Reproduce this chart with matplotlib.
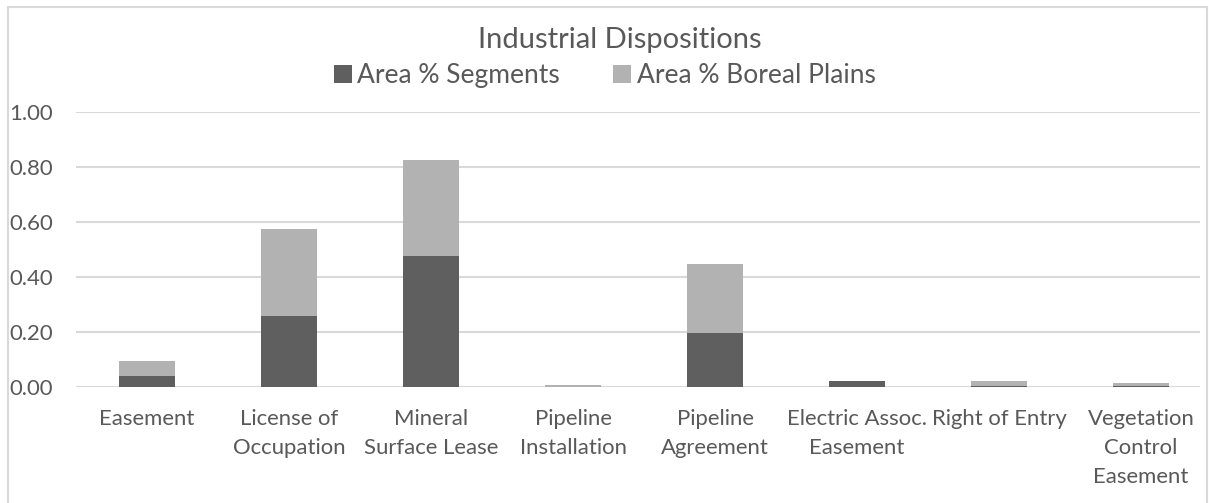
import numpy as np
import matplotlib.pyplot as plt
from matplotlib.patches import Rectangle

# categories and values
categories = ['Easement', 'License of\nOccupation', 'Mineral\nSurface Lease',
              'Pipeline\nInstallation', 'Pipeline\nAgreement',
              'Electric Assoc.\nEasement', 'Right of Entry',
              'Vegetation\nControl\nEasement']
area_segments = [0.039, 0.257, 0.474, 0.000, 0.196, 0.019, 0.001, 0.003]
area_boreal = [0.056, 0.316, 0.350, 0.005, 0.250, 0.000, 0.019, 0.010]
yticks = [0.0, 0.2, 0.4, 0.6, 0.8, 1.0]

DARK = '#5f5f5f'
LIGHT = '#b2b2b2'
GRID = '#d9d9d9'
TXT = '#595959'

plt.rcParams['font.family'] = ['Lato', 'DejaVu Sans']

W, H = 1209, 503
fig = plt.figure(figsize=(W / 100, H / 100), dpi=100)

# axes placement in pixels: left 76, right 1200, top 111.7, bottom 386.7
ax = fig.add_axes([76 / W, (H - 386.7) / H, (1200 - 76) / W, 275 / H])

x = np.arange(len(categories))
ax.bar(x, area_segments, width=0.395, color=DARK, label='Area % Segments', zorder=3)
ax.bar(x, area_boreal, width=0.395, bottom=area_segments, color=LIGHT,
       label='Area % Boreal Plains', zorder=3)

ax.set_ylim(0, 1.0)
ax.set_xlim(-0.5, 7.415)
ax.set_yticks(yticks)
ax.set_yticklabels(['%.2f' % v for v in yticks])
ax.set_xticks(x)
ax.set_xticklabels(categories, linespacing=1.55)
ax.tick_params(length=0, colors=TXT, labelsize=15.9)
ax.tick_params(axis='x', pad=16)
ax.tick_params(axis='y', pad=16.5)
for s in ax.spines.values():
    s.set_visible(False)
ax.yaxis.grid(True, color=GRID, linewidth=1.5, zorder=0)
ax.set_axisbelow(True)

fig.text(619.5 / W, 1 - 40 / H, 'Industrial Dispositions', ha='center', va='center',
         fontsize=21, color=TXT)
fig.legend(loc='center', bbox_to_anchor=(604.5 / W, 1 - 76 / H), ncol=2, frameon=False,
           fontsize=19, labelcolor=TXT, handlelength=0.7, handleheight=0.7,
           handletextpad=0.2, columnspacing=2.0, borderpad=0, borderaxespad=0)

# light outer chart border
fig.patches.append(Rectangle((7.5 / W, -0.01), (1207 - 7.5) / W, 1 - 7 / H + 0.01,
                             transform=fig.transFigure, fill=False,
                             edgecolor=GRID, linewidth=1.5))

fig.savefig('out.png', dpi=100)
